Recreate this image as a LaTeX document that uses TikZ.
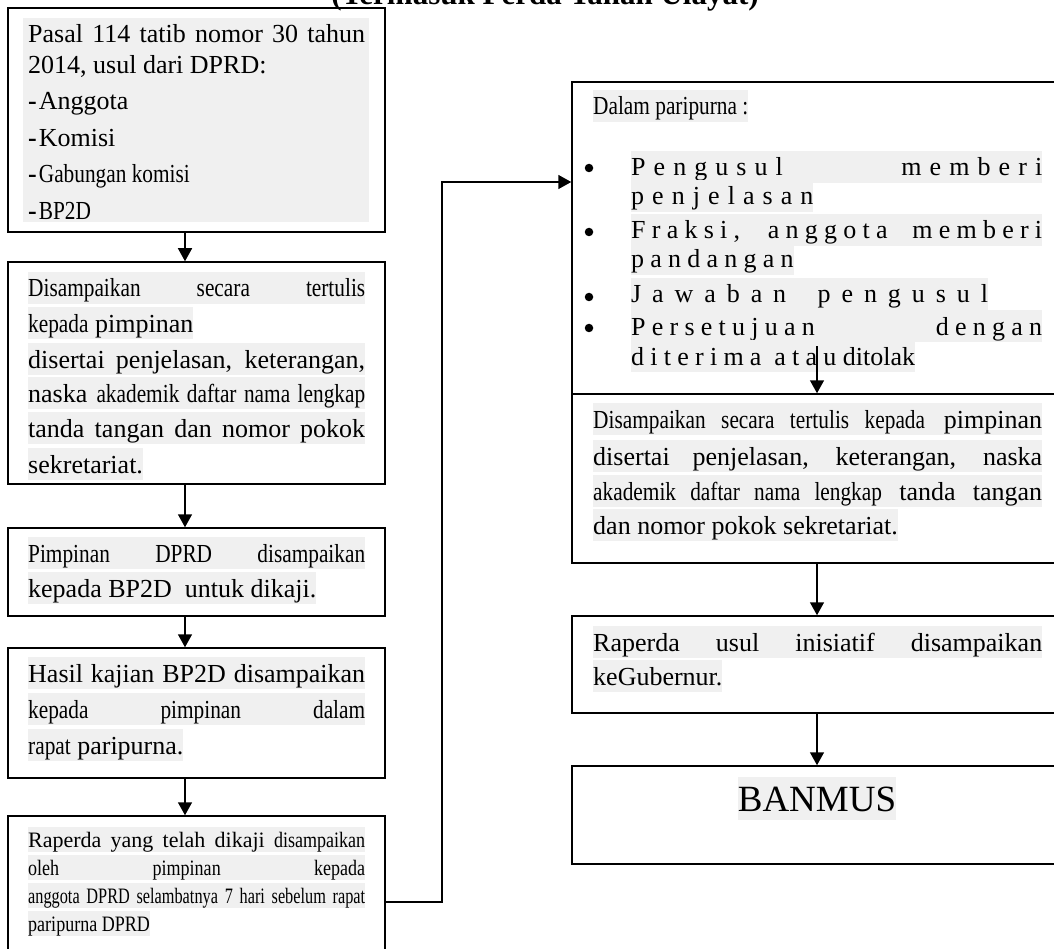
\documentclass[tikz,border=0pt]{standalone}
\usepackage{fontspec}
\setmainfont{Liberation Serif}
\newfontfamily\cnd[FakeStretch=0.82]{Liberation Serif}
\newfontfamily\cnnd[FakeStretch=0.74]{Liberation Serif}
\newfontfamily\spc[LetterSpace=24]{Liberation Serif}
\newfontfamily\spm[LetterSpace=31]{Liberation Serif}
\newfontfamily\spw[LetterSpace=42]{Liberation Serif}
\usetikzlibrary{arrows.meta,fit}
\definecolor{shade}{HTML}{F0F0F0}
\newcommand\fsN{\fontsize{26}{31}\selectfont}
\newcommand\fsS{\fontsize{22}{26}\selectfont}
\newcommand\StrL{\rule[-7pt]{0pt}{32pt}}
\newcommand\StrS{\rule[-5pt]{0pt}{25pt}}
\newcommand\JusL[2]{\makebox[#1pt][s]{#2}}
\tikzset{
  box/.style={draw, line width=1.5pt, inner sep=0pt},
  tn/.style={anchor=base west, inner sep=0pt, font=\fsN},
  tl/.style={tn, fill=shade},
  ts/.style={tl, font=\fsS},
  bul/.style={circle, fill, inner sep=0pt, minimum size=8.5pt},
  arr/.style={line width=1.5pt, -{Triangle[width=14pt,length=13pt]}},
}
\begin{document}
\begin{tikzpicture}[x=1pt,y=-1pt]
\useasboundingbox (0,0) rectangle (1054,949);
% title
\node[anchor=base, inner sep=0pt, font=\bfseries\fontsize{31}{36}\selectfont] (title) at (545,5) {(Termasuk Perda Tanah Ulayat)};
% boxes
\node[box, fit={(8,8) (385,232)}] (b1) {};
\node[box, fit={(8,262) (385,484)}] (b2) {};
\node[box, fit={(8,528) (385,616)}] (b3) {};
\node[box, fit={(8,648) (385,778)}] (b4) {};
\node[box, fit={(8,816) (385,952)}] (b5) {};
\node[box, fit={(572,82) (1062,394)}] (r1) {};
\node[box, fit={(572,394) (1062,563)}] (r2) {};
\node[box, fit={(572,616) (1062,713)}] (r3) {};
\node[box, fit={(572,766) (1062,864)}] (r4) {};
% box 1
\node[fill=shade, inner sep=0pt, fit={(23,18) (369,222)}] (g1) {};
\node[tn] (t1a) at (28,43) {\JusL{337}{Pasal 114 tatib nomor 30 tahun}};
\node[tn] (t1b) at (28,74) {2014, usul dari DPRD:};
\node[tn] (t1c) at (28,110) {{\bfseries -}\kern2pt Anggota};
\node[tn] (t1d) at (28,147) {{\bfseries -}\kern2pt Komisi};
\node[tn] (t1e) at (28,183) {{\bfseries -}\kern2pt{\cnd Gabungan komisi}};
\node[tn] (t1f) at (28,220) {{\bfseries -}\kern2pt{\cnd BP2D}};
% box 2
\node[tl] (t2a) at (28,297) {\StrL\JusL{337}{\cnd Disampaikan secara tertulis}};
\node[tl] (t2b) at (28,332) {\StrL{\cnd kepada} pimpinan};
\node[tl] (t2c) at (28,368) {\StrL\JusL{337}{disertai penjelasan, keterangan,}};
\node[tl] (t2d) at (28,402) {\StrL\JusL{337}{naska {\cnd akademik daftar nama lengkap}}};
\node[tl] (t2e) at (28,437) {\StrL\JusL{337}{tanda tangan dan nomor pokok}};
\node[tl] (t2f) at (28,473) {\StrL sekretariat.};
% box 3
\node[tl] (t3a) at (28,562) {\StrL\JusL{337}{\cnd Pimpinan DPRD disampaikan}};
\node[tl] (t3b) at (28,597) {\StrL kepada BP2D\ \ untuk dikaji.};
% box 4
\node[tl] (t4a) at (28,682) {\StrL\JusL{337}{Hasil kajian BP2D disampaikan}};
\node[tl] (t4b) at (28,718) {\StrL\JusL{337}{\cnd kepada pimpinan dalam}};
\node[tl] (t4c) at (28,754) {\StrL{\cnd rapat} paripurna.};
% box 5
\node[ts] (t5a) at (28,847) {\StrS\JusL{337}{Raperda yang telah dikaji {\cnd disampaikan}}};
\node[ts] (t5b) at (28,875) {\StrS\JusL{337}{\cnd oleh pimpinan kepada}};
\node[ts] (t5c) at (28,903) {\StrS\JusL{337}{\cnnd anggota DPRD selambatnya 7 hari sebelum rapat}};
\node[ts] (t5d) at (28,931) {\StrS{\cnd paripurna DPRD}};
% right box 1
\node[tl] (t6a) at (593,115) {\StrL{\cnd Dalam paripurna :}};
\node[bul] (u1) at (589,168) {};
\node[bul] (u2) at (589,232) {};
\node[bul] (u3) at (589,297) {};
\node[bul] (u4) at (589,328) {};
\node[tl] (t6b) at (631,176) {\StrL\JusL{411}{\spm Pengusul memberi}};
\node[tl] (t6c) at (631,205) {\StrL{\spm penjelasan}};
\node[tl] (t6d) at (631,239) {\StrL\JusL{411}{\spc Fraksi, anggota memberi}};
\node[tl] (t6e) at (631,268) {\StrL{\spc pandangan}};
\node[tl] (t6f) at (631,303) {\StrL{\spw Jawaban\hspace{14pt} pengusul}};
\node[tl] (t6g) at (631,335) {\StrL\JusL{411}{\spc Persetujuan dengan}};
\node[tl] (t6h) at (631,365) {\StrL{\spc diterima atau} ditolak};
% right box 2
\node[tl] (t7a) at (593,428) {\StrL\JusL{449}{{\cnd Disampaikan secara tertulis kepada} pimpinan}};
\node[tl] (t7b) at (593,465) {\StrL\JusL{449}{disertai penjelasan, keterangan, naska}};
\node[tl] (t7c) at (593,500) {\StrL\JusL{449}{{\cnd akademik daftar nama lengkap} tanda tangan}};
\node[tl] (t7d) at (593,534) {\StrL dan nomor pokok sekretariat.};
% right box 3
\node[tl] (t8a) at (593,651) {\StrL\JusL{449}{Raperda usul inisiatif disampaikan}};
\node[tl] (t8b) at (593,685) {\StrL keGubernur.};
% right box 4
\node[anchor=base, inner sep=0pt, fill=shade, font=\fontsize{37}{44}\selectfont] (t9a) at (817,811) {\rule[-9pt]{0pt}{43pt}BANMUS};
% connectors
\draw[arr] ([xshift=-11.5pt]b1.south) -- ([xshift=-11.5pt]b2.north);
\draw[arr] ([xshift=-11.5pt]b2.south) -- ([xshift=-11.5pt]b3.north);
\draw[arr] ([xshift=-11.5pt]b3.south) -- ([xshift=-11.5pt]b4.north);
\draw[arr] ([xshift=-11.5pt]b4.south) -- ([xshift=-11.5pt]b5.north);
\draw[arr] ([yshift=-18pt]b5.east) -- ++(56,0) |- ([yshift=56pt]r1.west);
\draw[arr] ([yshift=47pt]r2.north) -- (r2.north);
\draw[arr] (r2.south) -- (r3.north);
\draw[arr] (r3.south) -- (r4.north);
\end{tikzpicture}
\end{document}
